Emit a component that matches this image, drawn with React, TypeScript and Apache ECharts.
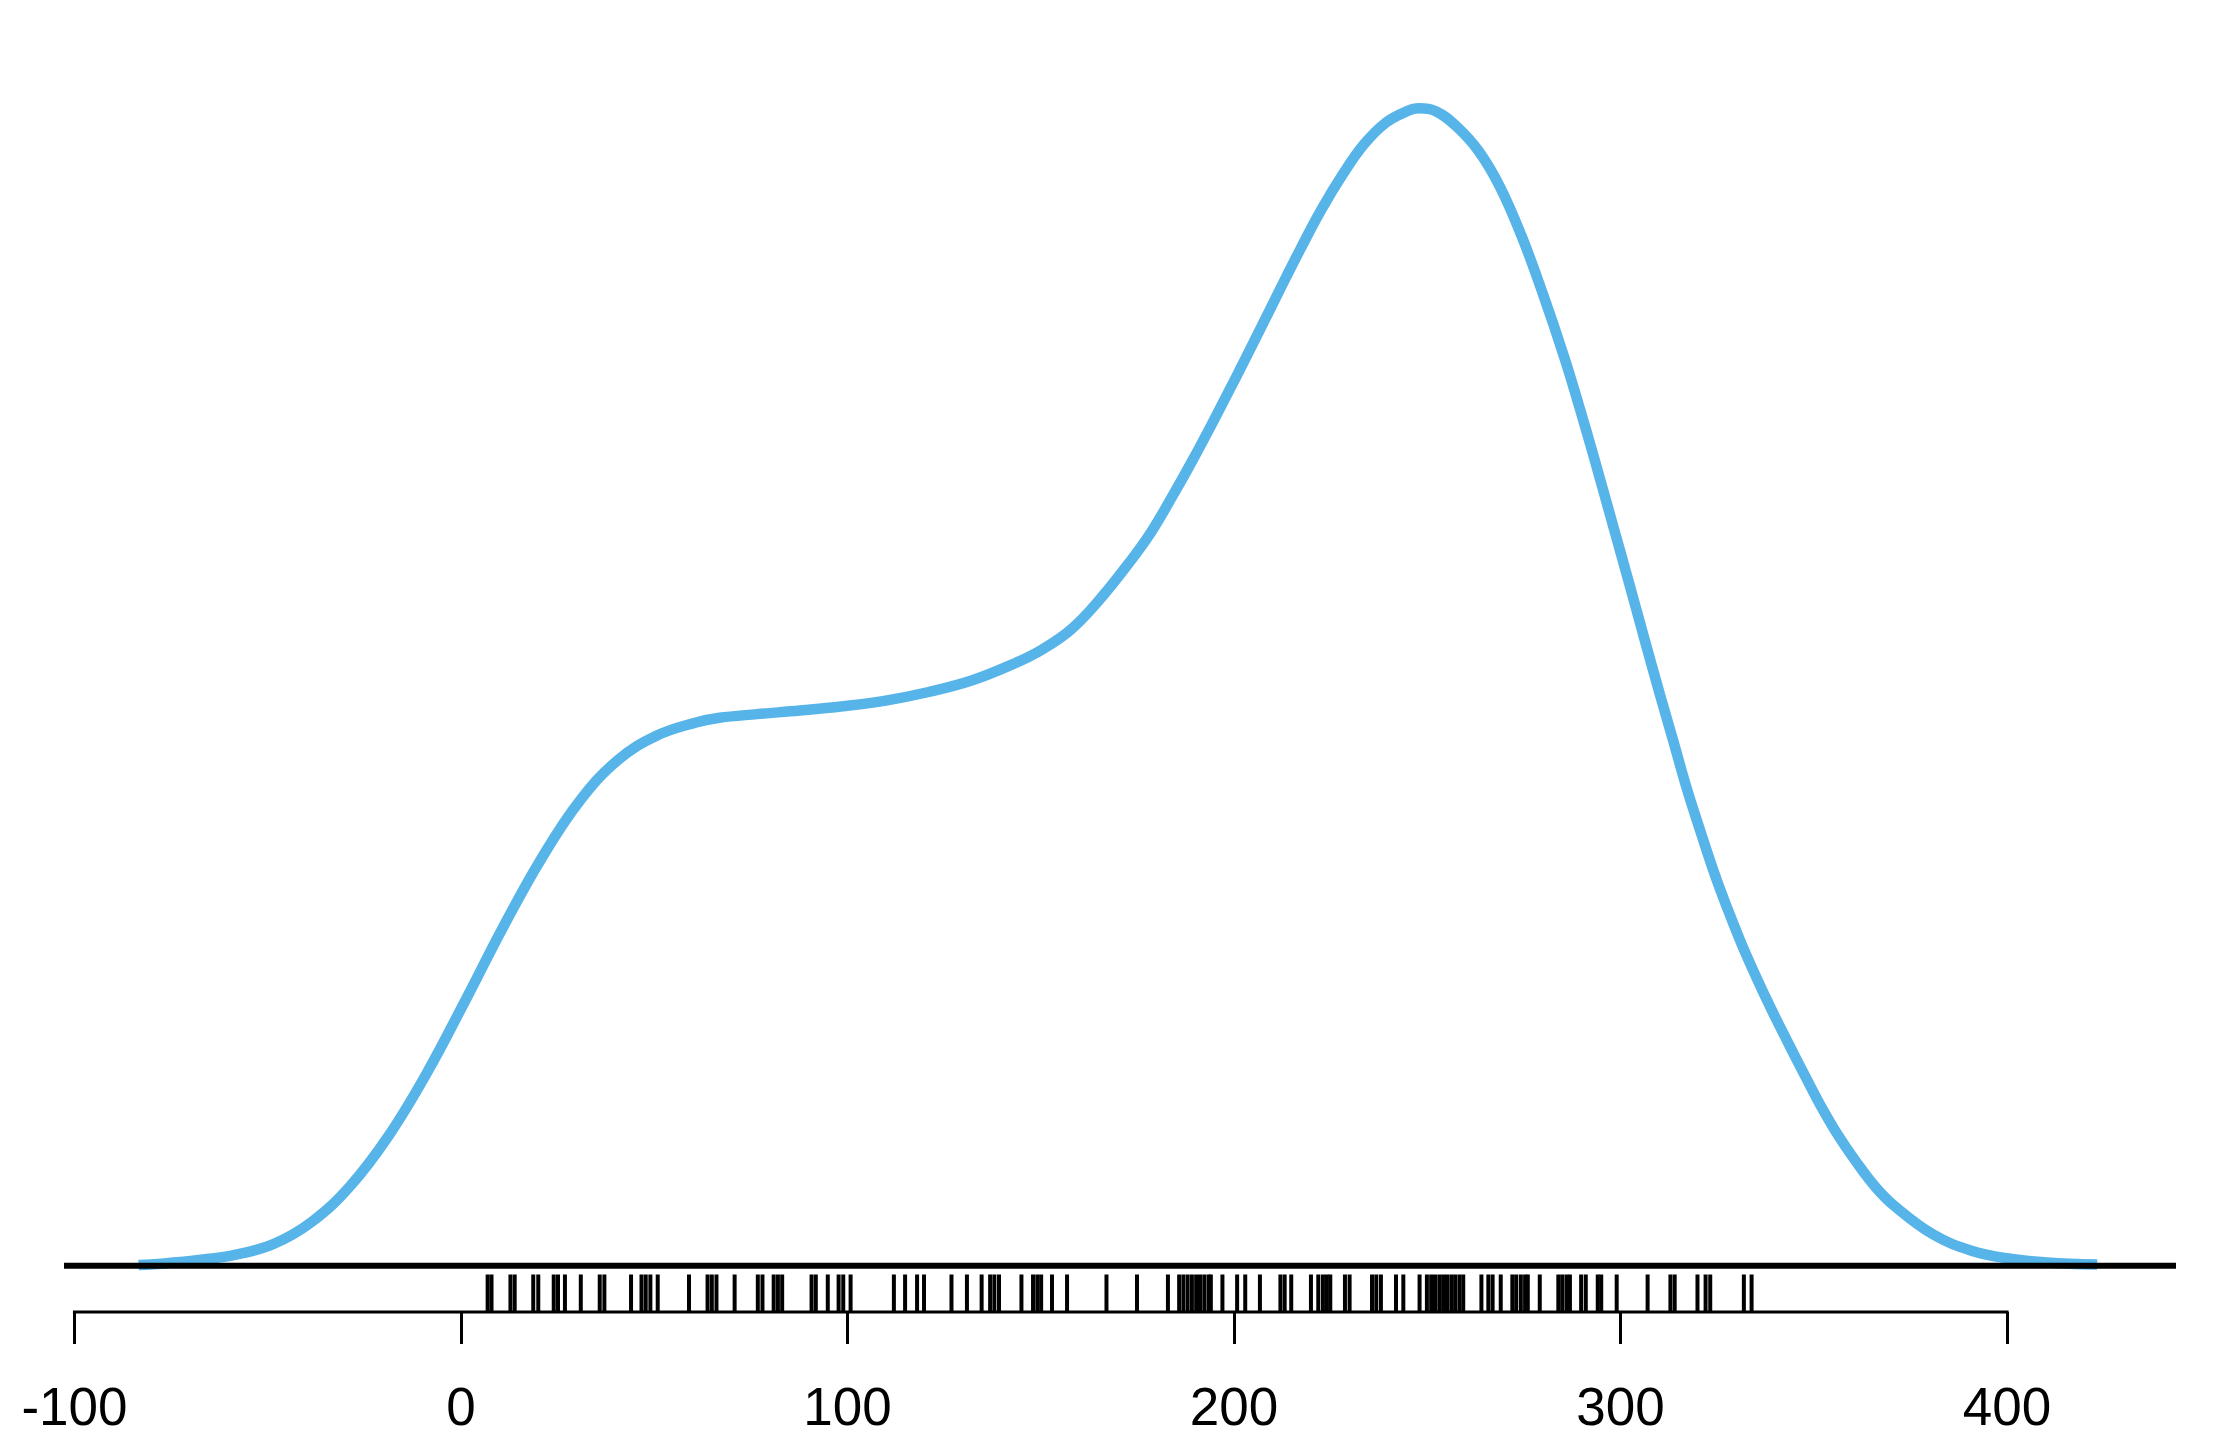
import React, { useEffect, useRef } from "react";
import * as echarts from "echarts";

// Kernel density curve (x in data units, y = density)
const densityX = [
  -83.4, -76.0, -68.4, -58.5, -48.5, -38.6, -28.7, -18.8, -8.9, 1.1,
  11.0, 20.9, 30.8, 40.7, 50.7, 60.6, 66.5, 76.6, 87.7, 98.8,
  109.9, 121.0, 132.1, 143.2, 150.5, 157.9, 165.3, 172.7, 178.3, 183.8,
  189.4, 194.9, 200.4, 206.0, 211.5, 217.1, 222.6, 228.2, 233.7, 239.3,
  244.8, 247.8, 252.2, 257.7, 263.3, 268.8, 274.4, 279.9, 285.5, 289.2,
  292.9, 298.4, 302.1, 306.3, 310.2, 313.7, 317.1, 320.6, 324.4, 327.5,
  330.9, 334.8, 338.7, 343.0, 348.2, 351.6, 355.9, 360.9, 366.0, 370.8,
  380.8, 390.8, 400.4, 410.4, 423.3,
];
const densityY = [
  0.0000029, 0.0000105, 0.0000222, 0.0000445, 0.0000889, 0.0001796, 0.0003259, 0.0005307, 0.0007881, 0.0010865,
  0.0013908, 0.0016716, 0.0019074, 0.0020742, 0.0021736, 0.0022263, 0.0022456, 0.0022614, 0.002276, 0.0022936,
  0.002317, 0.0023521, 0.0023989, 0.0024691, 0.0025276, 0.0026095, 0.0027324, 0.0028787, 0.0030016, 0.0031478,
  0.0033058, 0.0034696, 0.0036393, 0.0038149, 0.0039904, 0.0041659, 0.0043297, 0.004476, 0.0045989, 0.0046867,
  0.0047335, 0.0047452, 0.0047335, 0.0046691, 0.0045696, 0.0044234, 0.0042215, 0.0039845, 0.0037212, 0.0035282,
  0.0033263, 0.003015, 0.0028044, 0.0025622, 0.002341, 0.0021479, 0.0019583, 0.001784, 0.0016026, 0.0014704,
  0.0013346, 0.0011936, 0.0010614, 0.0009245, 0.0007636, 0.0006612, 0.0005441, 0.0004271, 0.0003218, 0.0002457,
  0.0001287, 0.0000614, 0.0000293, 0.0000135, 0.0000047,
];

// Rug: individual observations
const rugValues = [
  6.9, 7.9, 12.8, 13.9, 18.7, 20.0, 24.0, 25.1, 26.9, 31.0, 35.9, 37.1, 44.0, 46.7, 47.8, 49.0, 50.9, 59.0,
  63.8, 64.9, 66.1, 70.8, 76.8, 78.0, 80.9, 82.0, 83.1,
  90.7, 91.8, 94.9, 97.7, 98.9, 100.8, 112.0, 114.9, 118.0, 119.8, 126.9, 130.9, 134.7, 136.9, 138.0, 139.2,
  145.0, 148.0, 149.1, 150.1, 152.9, 156.8, 167.0,
  174.9, 182.9, 185.8, 186.9, 188.0, 189.1, 190.2, 191.2, 192.3, 193.4, 194.0, 197.0, 200.8, 202.9, 206.7,
  212.0, 213.1, 214.8, 219.9, 221.8, 223.0, 224.0, 224.9, 228.7, 229.9, 235.7, 236.8, 238.0, 241.9, 243.8,
  248.0, 249.9, 251.0, 252.0, 253.1, 254.1, 255.1, 256.2, 257.2, 258.3, 259.3,
  264.0, 265.8, 266.9, 269.0, 272.0, 273.0, 274.2, 275.3, 276.0, 279.1, 283.9, 284.9, 286.0, 286.9, 289.8,
  291.0, 294.1, 295.0, 299.0, 307.0, 312.9, 314.0, 319.9, 322.0, 323.2, 331.9, 333.9,
];

// Axis ticks / labels
const xTicks = [-100, 0, 100, 200, 300, 400];
const xMin = -102.7;
const xMax = 443.7;

export default function App() {
  const ref = useRef<HTMLDivElement>(null);

  useEffect(() => {
    if (!ref.current) return;
    const chart = echarts.init(ref.current, undefined, { renderer: "svg" });

    const peak = Math.max(...densityY);
    const yMin = -0.04 * peak;
    const yMax = 1.04 * peak;
    const rugTop = yMin + 0.03 * (yMax - yMin);

    const curve = densityX.map((x, i) => [x, densityY[i]]);

    chart.setOption({
      animation: false,
      backgroundColor: "#ffffff",
      grid: { left: 64, right: 64, top: 62, bottom: 128, containLabel: false },
      xAxis: {
        type: "value",
        min: xMin,
        max: xMax,
        axisLine: { show: false, onZero: false },
        splitLine: { show: false },
        axisTick: {
          show: true,
          customValues: xTicks,
          length: 32,
          lineStyle: { color: "#000", width: 3 },
        },
        axisLabel: {
          show: true,
          customValues: xTicks,
          margin: 68,
          color: "#000",
          fontSize: 53,
          fontFamily: "Liberation Sans, Arial, sans-serif",
          formatter: (v: number) => String(v),
        },
      },
      yAxis: { type: "value", min: yMin, max: yMax, show: false },
      series: [
        {
          type: "line",
          name: "density",
          data: curve,
          showSymbol: false,
          symbol: "none",
          smooth: 0.4,
          lineStyle: { color: "#56B4E9", width: 10.5 },
          z: 2,
          silent: true,
        },
        {
          type: "line",
          name: "zero",
          data: [
            [xMin, 0],
            [xMax, 0],
          ],
          symbol: "none",
          lineStyle: { color: "#000", width: 6 },
          z: 3,
          clip: false,
          silent: true,
        },
        {
          type: "line",
          name: "axisline",
          data: [
            [xTicks[0], yMin],
            [xTicks[xTicks.length - 1], yMin],
          ],
          symbol: "none",
          lineStyle: { color: "#000", width: 3, cap: "square" },
          z: 3,
          clip: false,
          silent: true,
        },
        {
          type: "custom",
          name: "rug",
          data: rugValues.map((v) => [v, yMin]),
          encode: { x: 0, y: 1 },
          clip: false,
          silent: true,
          z: 4,
          renderItem: (params: any, api: any) => {
            const v = api.value(0);
            const p1 = api.coord([v, yMin]);
            const p2 = api.coord([v, rugTop]);
            return {
              type: "line",
              shape: { x1: p1[0], y1: p1[1], x2: p2[0], y2: p2[1] },
              style: { stroke: "#000", lineWidth: 4 },
            };
          },
        },
      ],
    });

    return () => {
      chart.dispose();
    };
  }, []);

  return (
    <div
      ref={ref}
      style={{ position: "fixed", left: 0, top: 0, width: 2240, height: 1440, background: "#fff" }}
    />
  );
}
